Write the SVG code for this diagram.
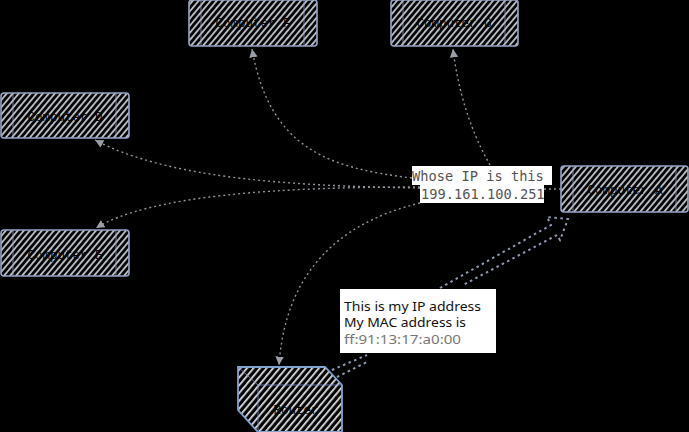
<svg xmlns="http://www.w3.org/2000/svg" width="689" height="432" viewBox="0 0 689 432">
<style>
.box{fill:url(#h);stroke:#98a4c6;stroke-width:1.6}
.rt{fill:url(#h2);stroke:#7fa3cf;stroke-width:1.8}
.in{fill:none;stroke:#98a4c6;stroke-width:1;opacity:.75}
.lab{font-family:"Liberation Mono",monospace;font-size:12.5px;fill:#000;text-anchor:middle}
.c{fill:none;stroke:#8f939b;stroke-width:1.4;stroke-dasharray:2 3}
.big{fill:none;stroke:#8f9bb5;stroke-width:2;stroke-dasharray:2.5 3.5}
.mono{font-family:"DejaVu Sans Mono","Liberation Mono",monospace;font-size:13.7px;fill:#555}
.hand{font-family:"Noto Sans",sans-serif;font-size:12.5px;fill:#111}
</style>
<defs>
<pattern id="h" width="4.6" height="4.6" patternUnits="userSpaceOnUse" patternTransform="rotate(-50)"><rect width="4.6" height="4.6" fill="#060606"/><rect width="4.6" height="1.8" fill="#b9bdc6"/></pattern>
<pattern id="h2" width="5" height="5" patternUnits="userSpaceOnUse" patternTransform="rotate(-50)"><rect width="5" height="5" fill="#050505"/><rect width="5" height="1.7" fill="#e4e6ea"/></pattern>
<marker id="a" markerWidth="8" markerHeight="8" refX="6" refY="3" orient="auto"><path d="M0 0L6 3L0 6Z" fill="#9a9ea6"/></marker>
</defs>
<rect width="689" height="432" fill="#000"/>
<g id="connectors">
<path class="c" marker-end="url(#a)" d="M412 178C330 168 270 150 252 49"/>
<path class="c" marker-end="url(#a)" d="M490 165C470 130 458 90 453 49"/>
<path class="c" marker-end="url(#a)" d="M420 188C300 186 170 180 95 140"/>
<path class="c" marker-end="url(#a)" d="M420 187C280 187 150 195 96 228"/>
<path class="c" marker-end="url(#a)" d="M420 203C330 225 285 280 279 365"/>
<path class="c" d="M544 189H561"/>
<path class="big" d="M332 370L367 355M337 377L367 362M440 288L551 225L547 217L568 219L560 240L557 235L463 285"/>
</g>
<g id="computer-f"><rect class="box" x="189" y="0" width="128" height="46" rx="3"/><path class="in" d="M201 0V46M304 0V46"/><text class="lab" x="253" y="27">Computer F</text></g>
<g id="computer-g"><rect class="box" x="391" y="0" width="127" height="46" rx="3"/><path class="in" d="M403 0V46M505 0V46"/><text class="lab" x="454" y="27">Computer G</text></g>
<g id="computer-d"><rect class="box" x="1" y="93" width="128" height="45" rx="3"/><path class="in" d="M13 93V138M116 93V138"/><text class="lab" x="65" y="121">Computer D</text></g>
<g id="computer-e"><rect class="box" x="1" y="230" width="128" height="46" rx="3"/><path class="in" d="M13 230V276M116 230V276"/><text class="lab" x="65" y="259">Computer E</text></g>
<g id="computer-a"><rect class="box" x="561" y="166" width="127" height="46" rx="3"/><path class="in" d="M573 166V212M676 166V212"/><text class="lab" x="625" y="194">Computer A</text></g>
<g id="router"><path class="rt" d="M238 367H325L342 385V432H258L238 410Z"/><path class="in" style="stroke:#7f90d0" d="M238 367L258 385H342M258 385V432"/><text class="lab" x="296" y="414">Router</text></g>
<g id="label-ip"><rect x="412" y="166" width="140" height="19" fill="#fff"/><rect x="420" y="185" width="124" height="18" fill="#fff"/><text class="mono" x="412" y="181">Whose IP is this</text><text class="mono" x="421" y="199">199.161.100.251</text></g>
<g id="label-mac"><rect x="340" y="289" width="156" height="64" fill="#fff"/><text class="hand" x="344" y="311" textLength="137" lengthAdjust="spacingAndGlyphs">This is my IP address</text><text class="hand" x="344" y="327" textLength="122" lengthAdjust="spacingAndGlyphs">My MAC address is</text><text class="hand" x="344" y="344" textLength="117" lengthAdjust="spacingAndGlyphs" style="fill:#777">ff:91:13:17:a0:00</text></g>
</svg>
